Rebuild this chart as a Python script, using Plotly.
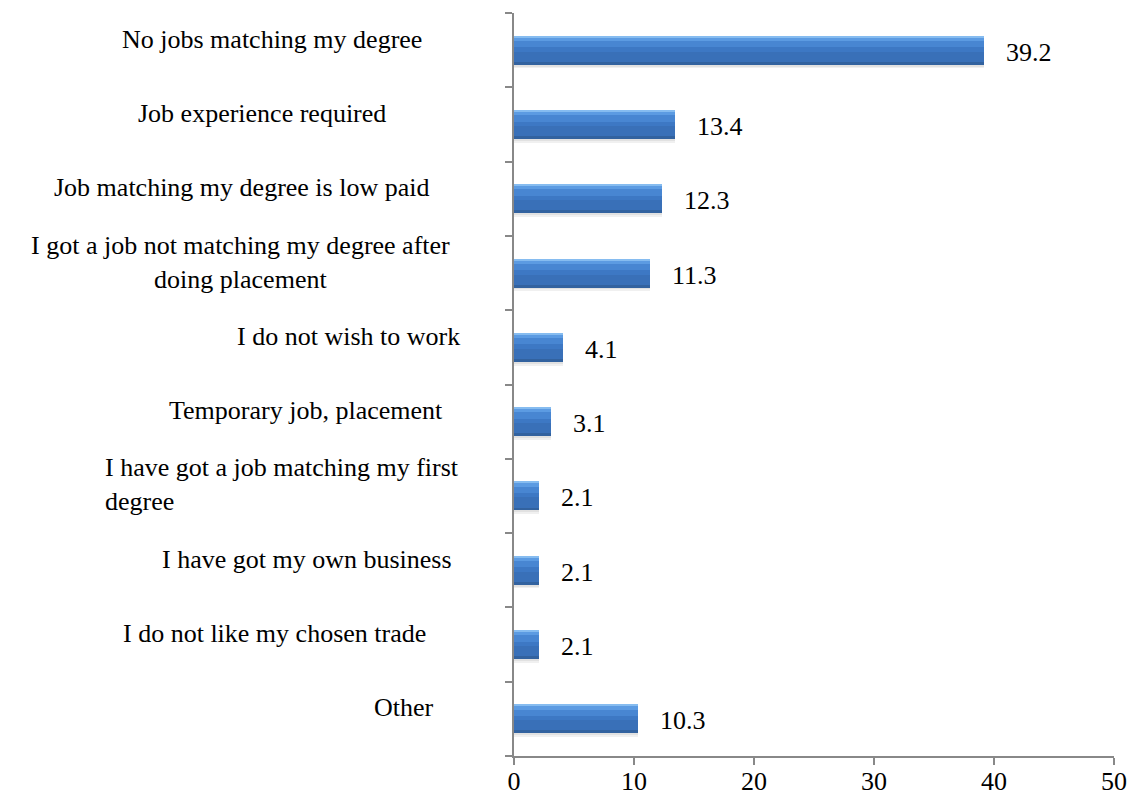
import plotly.graph_objects as go

# ---- data ----
categories = [
    "No jobs matching my degree",
    "Job experience required",
    "Job matching my degree is low paid",
    "I got a job not matching my degree after<br>doing placement",
    "I do not wish to work",
    "Temporary job, placement",
    "I have got a job matching my first<br>degree",
    "I have got my own business",
    "I do not like my chosen trade",
    "Other",
]
values = [39.2, 13.4, 12.3, 11.3, 4.1, 3.1, 2.1, 2.1, 2.1, 10.3]
x_ticks = [0, 10, 20, 30, 40, 50]

# ---- layout / style (pixel geometry of the reference) ----
W, H = 1144, 809
L, R, T, B = 514, 30, 13, 53
PW = W - L - R
FONT = "Liberation Serif"
FS = 26
# label anchor positions (pixels) and alignment per category
label_px = [272, 262, 241, 240, 348, 306, 103, 307, 274, 404]
label_anchor = ["center"] * 6 + ["left"] + ["center"] * 3
label_align = ["center"] * 6 + ["left"] + ["center"] * 3

ypos = list(range(len(categories)))
BW = 0.39
off0 = -BW / 2

fig = go.Figure()

def band(offset, width, color):
    fig.add_trace(go.Bar(
        x=values, y=ypos, orientation="h", width=width, offset=offset,
        marker=dict(color=color, line=dict(width=0)),
        hoverinfo="skip", showlegend=False,
    ))

# soft shadow
band(off0 + 0.05, BW, "rgba(0,0,0,0.06)")
band(off0 + 0.025, BW, "rgba(0,0,0,0.06)")
# base and bevel bands (top is smaller y since axis reversed)
band(off0, BW, "#3D78C4")
band(off0 + BW * 0.55, BW * 0.45, "#3970B8")
band(off0 + BW * 0.90, BW * 0.10, "#32629F")
band(off0, BW * 0.40, "#4886D2")
band(off0, BW * 0.18, "#5C9BE2")
band(off0, BW * 0.07, "#86BCF0")

annotations = []
for i, (c, v) in enumerate(zip(categories, values)):
    annotations.append(dict(
        x=v, y=i, xref="x", yref="y", text=f"{v:.1f}", showarrow=False,
        xanchor="left", xshift=20, yshift=-2,
        font=dict(family=FONT, size=FS, color="#000000"),
    ))
    annotations.append(dict(
        x=(label_px[i] - L) / PW, y=i, xref="paper", yref="y", text=c,
        showarrow=False, xanchor=label_anchor[i], align=label_align[i],
        yshift=11, font=dict(family=FONT, size=FS, color="#000000"),
    ))

fig.update_layout(
    width=W, height=H,
    margin=dict(l=L, r=R, t=T, b=B, pad=0),
    paper_bgcolor="white", plot_bgcolor="white",
    barmode="overlay", bargap=0,
    annotations=annotations,
    font=dict(family=FONT),
    xaxis=dict(
        range=[0, 50], tickvals=x_ticks, ticktext=[str(t) for t in x_ticks],
        showgrid=False, zeroline=False, showline=True,
        linecolor="#888888", linewidth=1.5,
        ticks="outside", ticklen=7, tickcolor="#888888", tickwidth=1.5,
        ticklabelstandoff=-6,
        tickfont=dict(family=FONT, size=FS, color="#000000"),
        fixedrange=True,
    ),
    yaxis=dict(
        range=[len(categories) - 0.5, -0.5],
        tickvals=[i - 0.5 for i in range(len(categories) + 1)],
        showticklabels=False,
        showgrid=False, zeroline=False, showline=True,
        linecolor="#888888", linewidth=1.5,
        ticks="outside", ticklen=7, tickcolor="#888888", tickwidth=1.5,
        fixedrange=True,
    ),
)

fig.write_html("out.html")
